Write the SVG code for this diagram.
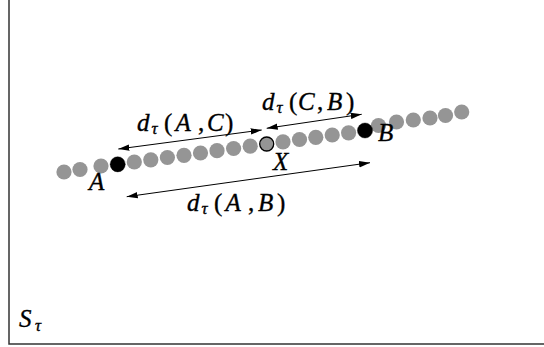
<svg xmlns="http://www.w3.org/2000/svg" width="544" height="347" viewBox="0 0 544 347">
<style>
.frame{fill:none;stroke:#333;stroke-width:1.5}
.dot{fill:#959595}
.blk{fill:#000}
.xdot{fill:#959595;stroke:#000;stroke-width:1.3}
.arr{fill:none;stroke:#000;stroke-width:1}
</style>
<defs>
<marker id="ah" viewBox="0 0 11 7" refX="11" refY="3.5" markerWidth="11" markerHeight="7" markerUnits="userSpaceOnUse" orient="auto-start-reverse">
<path d="M0,0.3 L11,3.5 L0,6.7 Z" fill="#000"/>
</marker>
</defs>
<path class="frame" d="M9,0 V344 H544"/>
<g id="chain">
<circle class="dot" cx="64" cy="172" r="7.6"/>
<circle class="dot" cx="80" cy="169.5" r="7.6"/>
<circle class="dot" cx="101" cy="166" r="7.6"/>
<circle class="dot" cx="134.3" cy="162" r="7.6"/>
<circle class="dot" cx="150.8" cy="159.8" r="7.6"/>
<circle class="dot" cx="167.4" cy="157.5" r="7.6"/>
<circle class="dot" cx="184" cy="155.3" r="7.6"/>
<circle class="dot" cx="200.5" cy="153" r="7.6"/>
<circle class="dot" cx="217" cy="150.7" r="7.6"/>
<circle class="dot" cx="233.6" cy="148.5" r="7.6"/>
<circle class="dot" cx="250.2" cy="146.2" r="7.6"/>
<circle class="dot" cx="283" cy="141.8" r="7.6"/>
<circle class="dot" cx="299.5" cy="139.5" r="7.6"/>
<circle class="dot" cx="315.8" cy="137.3" r="7.6"/>
<circle class="dot" cx="332.2" cy="135" r="7.6"/>
<circle class="dot" cx="348.6" cy="132.8" r="7.6"/>
<circle class="dot" cx="378.5" cy="125.5" r="7.6"/>
<circle class="dot" cx="396.5" cy="122" r="7.6"/>
<circle class="dot" cx="413.3" cy="120" r="7.6"/>
<circle class="dot" cx="430" cy="118" r="7.6"/>
<circle class="dot" cx="445.5" cy="115.5" r="7.6"/>
<circle class="dot" cx="461.7" cy="112" r="7.6"/>
</g>
<g font-family="Liberation Serif, Times New Roman, serif" fill="#000" stroke="#000" stroke-width="0.35" font-style="italic" font-size="25">
<g id="nodeA">
<circle class="blk" cx="117.7" cy="164.3" r="7.6"/>
<text x="89" y="190">A</text>
</g>
<g id="nodeX">
<circle class="xdot" cx="266.7" cy="144" r="7"/>
<text x="273" y="170">X</text>
</g>
<g id="nodeB">
<circle class="blk" cx="365" cy="130.5" r="7.6"/>
<text x="378" y="141">B</text>
</g>
</g>
<g id="connectors">
<line class="arr" marker-start="url(#ah)" marker-end="url(#ah)" x1="118.3" y1="149" x2="261.7" y2="130"/>
<line class="arr" marker-start="url(#ah)" marker-end="url(#ah)" x1="266.7" y1="128.3" x2="361.7" y2="114.3"/>
<line class="arr" marker-start="url(#ah)" marker-end="url(#ah)" x1="126.7" y1="196.7" x2="370" y2="162.7"/>
</g>
<g id="labels" font-family="Liberation Serif, Times New Roman, serif" font-size="25" fill="#000" stroke="#000" stroke-width="0.35">
<text y="131"><tspan font-style="italic" x="137">d</tspan><tspan font-style="italic" font-size="17" x="151.5" y="134">τ</tspan><tspan x="164" y="131">(</tspan><tspan font-style="italic" x="175.5">A</tspan><tspan x="198">,</tspan><tspan font-style="italic" x="207">C</tspan><tspan x="225">)</tspan></text>
<text y="110"><tspan font-style="italic" x="262">d</tspan><tspan font-style="italic" font-size="17" x="276.5" y="113">τ</tspan><tspan x="289" y="110">(</tspan><tspan font-style="italic" x="298">C</tspan><tspan x="317">,</tspan><tspan font-style="italic" x="327">B</tspan><tspan x="346">)</tspan></text>
<text y="211"><tspan font-style="italic" x="187">d</tspan><tspan font-style="italic" font-size="17" x="201.5" y="214">τ</tspan><tspan x="214" y="211">(</tspan><tspan font-style="italic" x="225.5">A</tspan><tspan x="248">,</tspan><tspan font-style="italic" x="258">B</tspan><tspan x="277">)</tspan></text>
<text y="327"><tspan font-style="italic" x="19">S</tspan><tspan font-style="italic" font-size="17" x="35" y="331">τ</tspan></text>
</g>
</svg>
